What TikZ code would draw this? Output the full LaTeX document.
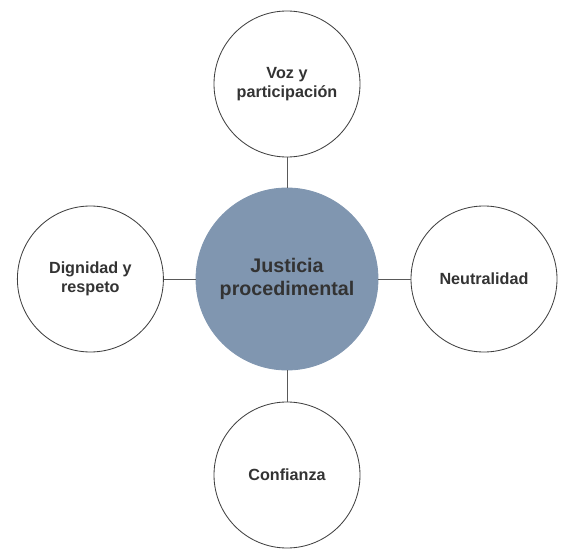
\documentclass[tikz,border=0pt]{standalone}
\usepackage{fontspec}
\setmainfont{Liberation Sans}
\usepackage{xcolor}
\usepackage{tikz}
\usetikzlibrary{positioning}

\definecolor{hubblue}{HTML}{8096B0}
\definecolor{txtgray}{HTML}{333333}

\begin{document}
\begin{tikzpicture}[
  hub/.style={circle, draw=hubblue, line width=0.6pt, fill=hubblue, minimum size=4.55cm, align=center, font=\fontsize{14}{16.5}\selectfont\bfseries, text=txtgray},
  item/.style={circle, draw=black!75, line width=0.6pt, fill=white, minimum size=3.65cm, align=center, font=\fontsize{11.5}{13.7}\selectfont\bfseries, text=txtgray},
  link/.style={draw=black!65, line width=0.6pt}
]
\useasboundingbox (0,0) rectangle (14.4,13.875);

% Center and satellites
\node[hub]  (justicia)  at (7.175, 6.9)    {Justicia\\procedimental};
\node[item] (voz)       at (7.175, 11.775) {Voz y\\participación};
\node[item] (dignidad)  at (2.26, 6.9)     {Dignidad y\\respeto};
\node[item] (neutral)   at (12.1, 6.9)     {Neutralidad};
\node[item] (confianza) at (7.175, 2.0)    {Confianza};

% Links
\draw[link] (justicia) -- (voz);
\draw[link] (justicia) -- (dignidad);
\draw[link] (justicia) -- (neutral);
\draw[link] (justicia) -- (confianza);
\end{tikzpicture}
\end{document}
